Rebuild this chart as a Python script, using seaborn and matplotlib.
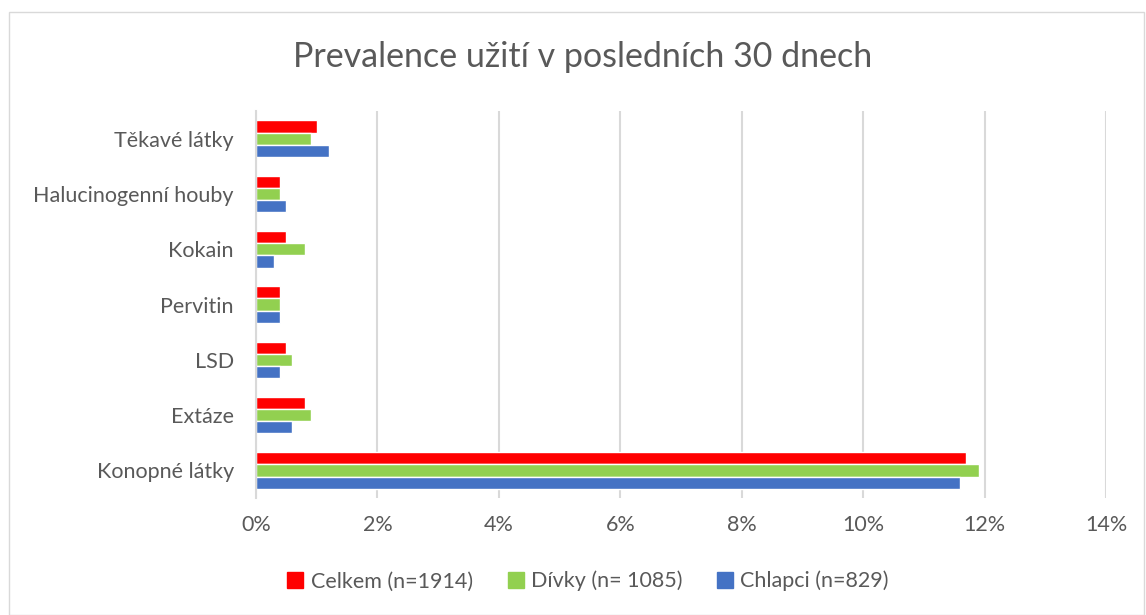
import matplotlib
matplotlib.use("Agg")
import matplotlib.pyplot as plt
from matplotlib.patches import Rectangle
from matplotlib.lines import Line2D
import pandas as pd
import seaborn as sns

# Data (values in %)
categories = ["Těkavé látky", "Halucinogenní houby", "Kokain", "Pervitin",
              "LSD", "Extáze", "Konopné látky"]
series = ["Celkem (n=1914)", "Dívky (n= 1085)", "Chlapci (n=829)"]
celkem = [1.0, 0.4, 0.5, 0.4, 0.5, 0.8, 11.7]
divky = [0.9, 0.4, 0.8, 0.4, 0.6, 0.9, 11.9]
chlapci = [1.2, 0.5, 0.3, 0.4, 0.4, 0.6, 11.6]
colors = ["#FF0000", "#92D050", "#4472C4"]

rows = []
for name, vals in zip(series, [celkem, divky, chlapci]):
    for cat, v in zip(categories, vals):
        rows.append({"kat": cat, "serie": name, "val": v})
df = pd.DataFrame(rows)

sns.set_style("white")
plt.rcParams['font.family'] = ['Lato', 'DejaVu Sans']

fig = plt.figure(figsize=(11.46, 6.15), dpi=100)
ax = fig.add_axes([0.2234, 0.19, 0.7417, 0.6295])

sns.barplot(data=df, y="kat", x="val", hue="serie", order=categories,
            hue_order=series, palette=colors, orient="h", width=0.66,
            saturation=1, ax=ax, legend=False)

ax.set_xlim(0, 14)
ax.set_xticks(range(0, 15, 2))
ax.set_xticklabels([f"{t}%" for t in range(0, 15, 2)])
ax.xaxis.grid(True, color="#d9d9d9", linewidth=1.5)
ax.set_axisbelow(True)
for s in ["top", "right", "bottom"]:
    ax.spines[s].set_visible(False)
ax.spines["left"].set_color("#d9d9d9")
ax.spines["left"].set_linewidth(1.5)
ax.tick_params(axis="both", length=0, labelsize=15.5, colors="#595959")
ax.tick_params(axis="y", pad=16)
ax.tick_params(axis="x", pad=12)
ax.set_xlabel("")
ax.set_ylabel("")

fig.text(0.508, 0.907, "Prevalence užití v posledních 30 dnech", ha="center",
         va="center", fontsize=24.5, color="#595959")

handles = [Line2D([], [], marker="s", linestyle="", markersize=11,
                  markerfacecolor=c, markeredgecolor=c) for c in colors]
fig.legend(handles, series, loc="center", bbox_to_anchor=(0.513, 0.055), ncol=3,
           frameon=False, fontsize=15.5, labelcolor="#595959",
           handlelength=0.8, handletextpad=0.3, columnspacing=1.6)

fig.patches.append(Rectangle((0.008, 0.0), 0.99, 0.98, transform=fig.transFigure,
                             fill=False, edgecolor="#d9d9d9", linewidth=1))

fig.savefig("out.png", dpi=100)
